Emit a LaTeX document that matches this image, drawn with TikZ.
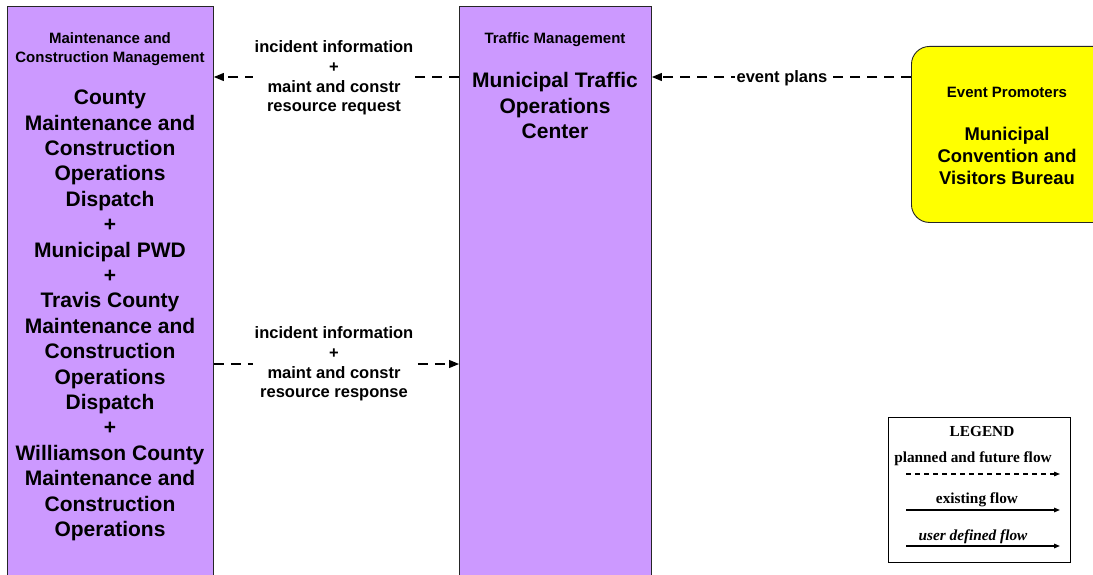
\documentclass[tikz,border=0pt]{standalone}
\usepackage{fontspec}
\setmainfont{Liberation Sans}
\newfontfamily\legendfont{Liberation Serif}
\usetikzlibrary{arrows.meta}
\definecolor{boxpurple}{HTML}{CC99FF}
\definecolor{boxyellow}{HTML}{FFFF00}
\begin{document}
\begin{tikzpicture}[x=1pt,y=-1pt,
  purplebox/.style={draw=black!85, fill=boxpurple, line width=0.9pt, anchor=north west, inner sep=0pt},
  yellowbox/.style={draw=black!85, fill=boxyellow, line width=0.9pt, anchor=north west, inner sep=0pt, rounded corners=18pt},
  headtext/.style={align=center, font=\bfseries\fontsize{15}{19}\selectfont, inner sep=0pt},
  bigtext/.style={align=center, font=\bfseries\fontsize{21}{25.4}\selectfont, inner sep=0pt},
  midtext/.style={align=center, font=\bfseries\fontsize{18.4}{22}\selectfont, inner sep=0pt},
  flowlabel/.style={align=center, font=\bfseries\fontsize{16.5}{19.7}\selectfont, fill=white, inner sep=2pt},
  flow/.style={draw=black, line width=1.1pt, dash pattern=on 10pt off 7pt, -{Triangle[length=10pt,width=8pt]}},
  legtext/.style={font=\legendfont\bfseries\fontsize{15.3}{17}\selectfont, inner sep=0pt},
  legdash/.style={draw=black, line width=1.2pt, dash pattern=on 5pt off 4pt, -{Triangle[length=6pt,width=4.5pt]}},
  legsolid/.style={draw=black, line width=1.4pt, -{Triangle[length=6pt,width=4.5pt]}}
]
\useasboundingbox (0,0) rectangle (1093,575);
\clip (0,0) rectangle (1093,575);
\fill[white] (0,0) rectangle (1093,575);

% boxes
\node[purplebox, minimum width=206pt, minimum height=620pt] (mcm) at (7,6) {};
\node[purplebox, minimum width=192pt, minimum height=620pt] (mtc) at (459,6) {};
\node[yellowbox, minimum width=220pt, minimum height=176pt] (evp) at (911,46) {};

% box texts
\node[headtext] (mcmhead) at (110,49.5) {Maintenance and\\Construction Management};
\node[bigtext] (mcmbody) at (110,315.5) {County\\Maintenance and\\Construction\\Operations\\Dispatch\\+\\Municipal PWD\\+\\Travis County\\Maintenance and\\Construction\\Operations\\Dispatch\\+\\Williamson County\\Maintenance and\\Construction\\Operations};
\node[headtext] (mtchead) at (555,40) {Traffic Management};
\node[bigtext] (mtcbody) at (555,105.5) {Municipal Traffic\\Operations\\Center};
\node[headtext] (evphead) at (1007,92) {Event Promoters};
\node[midtext] (evpbody) at (1007,155.5) {Municipal\\Convention and\\Visitors Bureau};

% connectors
\coordinate (ytop) at (0,77);
\coordinate (ybot) at (0,364);
\draw[flow] (mtc.west |- ytop) -- (mcm.east |- ytop);
\draw[flow] (mcm.east |- ybot) -- (mtc.west |- ybot);
\draw[flow] (evp.west |- ytop) -- (mtc.east |- ytop);
\node[flowlabel] (lab1) at (334,78) {incident information\\+\\maint and constr\\resource request};
\node[flowlabel] (lab2) at (334,364) {incident information\\+\\maint and constr\\resource response};
\node[flowlabel, inner sep=1.5pt] (lab3) at (782,78) {event plans};

% legend
\node[draw=black, line width=1pt, fill=white, anchor=north west, minimum width=182pt, minimum height=145pt, inner sep=0pt] (legend) at (888,417) {};
\node[legtext] (legtitle) at (982,432) {LEGEND};
\node[legtext] (legplanned) at (973,459) {planned and future flow};
\node[legtext] (legexist) at (977,500) {existing flow};
\node[legtext, font=\legendfont\bfseries\itshape\fontsize{15.3}{17}\selectfont] (leguser) at (973,537) {user defined flow};
\coordinate (la1) at (906,474);
\coordinate (lb1) at (1060,474);
\coordinate (la2) at (906,510);
\coordinate (lb2) at (1060,510);
\coordinate (la3) at (906,546);
\coordinate (lb3) at (1060,546);
\draw[legdash] (la1) -- (lb1);
\draw[legsolid] (la2) -- (lb2);
\draw[legsolid] (la3) -- (lb3);
\end{tikzpicture}
\end{document}
